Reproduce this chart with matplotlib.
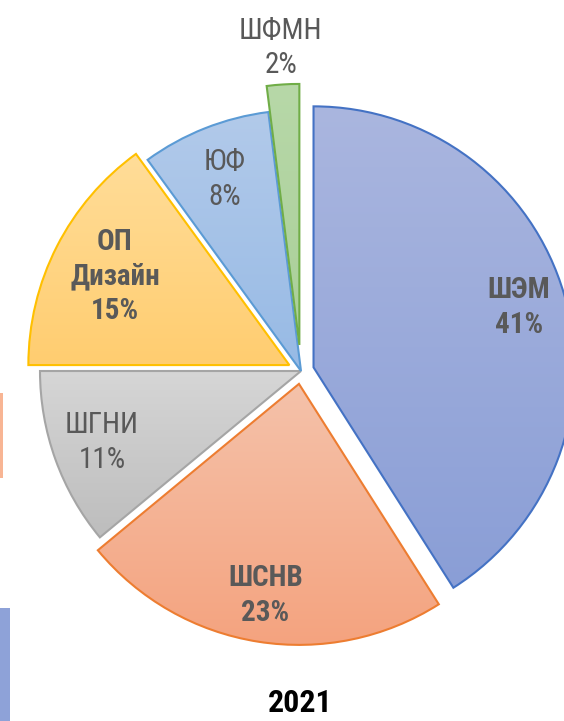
import numpy as np
import matplotlib
matplotlib.use("Agg")
import matplotlib.pyplot as plt
from matplotlib.colors import LinearSegmentedColormap
from matplotlib.patches import Rectangle

# ---- data ----
categories = ["ШЭМ", "ШСНВ", "ШГНИ", "ОП\nДизайн", "ЮФ", "ШФМН"]
values = [41, 23, 11, 15, 8, 2]
explode = [0.05, 0.05, 0.0, 0.05, 0.0, 0.10]
title = "2021"

# ---- style ----
edge_colors = ["#4472C4", "#ED7D31", "#A5A5A5", "#FFC000", "#5B9BD5", "#70AD47"]
top_colors = ["#AAB6DF", "#F5C2AA", "#D6D6D6", "#FFDD99", "#B2CAEA", "#B7D8A8"]
bot_colors = ["#8A9ED6", "#F4A37F", "#BDBDBD", "#FFCD70", "#97BAE5", "#AACF99"]
label_r = [0.82, 0.82, 0.81, 0.75, 0.79, 1.14]
label_weight = ["bold", "bold", "normal", "bold", "normal", "normal"]
text_color = "#595959"
FONT = ["Roboto Condensed", "DejaVu Sans"]

W, H = 564, 721
cx, cy, R = 301, 371, 261

fig = plt.figure(figsize=(W / 100, H / 100), dpi=100)
ax = fig.add_axes([0, 0, 1, 1])
wedges, _ = ax.pie(values, startangle=90, counterclock=False, explode=explode,
                   radius=1.0, wedgeprops=dict(linewidth=1.5))
ax.set_aspect("equal")
ax.axis("off")

total = sum(values)
start = 90.0
for i, w in enumerate(wedges):
    w.set_facecolor("none")
    w.set_edgecolor(edge_colors[i])
    w.set_zorder(2)
    ext = w.get_path().get_extents()
    cmap = LinearSegmentedColormap.from_list("g%d" % i, [bot_colors[i], top_colors[i]])
    grad = np.linspace(0, 1, 256).reshape(-1, 1)
    im = ax.imshow(grad, cmap=cmap, origin="lower", aspect="auto",
                   extent=[ext.x0, ext.x1, ext.y0, ext.y1], zorder=1,
                   interpolation="bilinear")
    im.set_clip_path(w)
    span = 360.0 * values[i] / total
    mid = np.deg2rad(start - span / 2)
    start -= span
    r = label_r[i] + explode[i]
    x, y = r * np.cos(mid), r * np.sin(mid)
    ax.text(x, y, f"{categories[i]}\n{values[i]}%", ha="center", va="center",
            fontsize=21, color=text_color, fontweight=label_weight[i],
            family=FONT, linespacing=1.3, zorder=3)

ax.set_xlim(-cx / R, (W - cx) / R)
ax.set_ylim(-(H - cy) / R, cy / R)

fig.text(300 / W, 1 - 703 / H, title, ha="center", va="center", fontsize=23,
         fontweight="bold", color="black", family=FONT)

# partial shapes cut at the left edge
fig.patches.append(Rectangle((0, 1 - 478 / H), 3 / W, 85 / H, transform=fig.transFigure,
                             facecolor="#F8B594", edgecolor="none"))
fig.patches.append(Rectangle((0, 0), 10 / W, 113 / H, transform=fig.transFigure,
                             facecolor="#8EA2D8", edgecolor="none"))

fig.savefig("out.png", dpi=100)
